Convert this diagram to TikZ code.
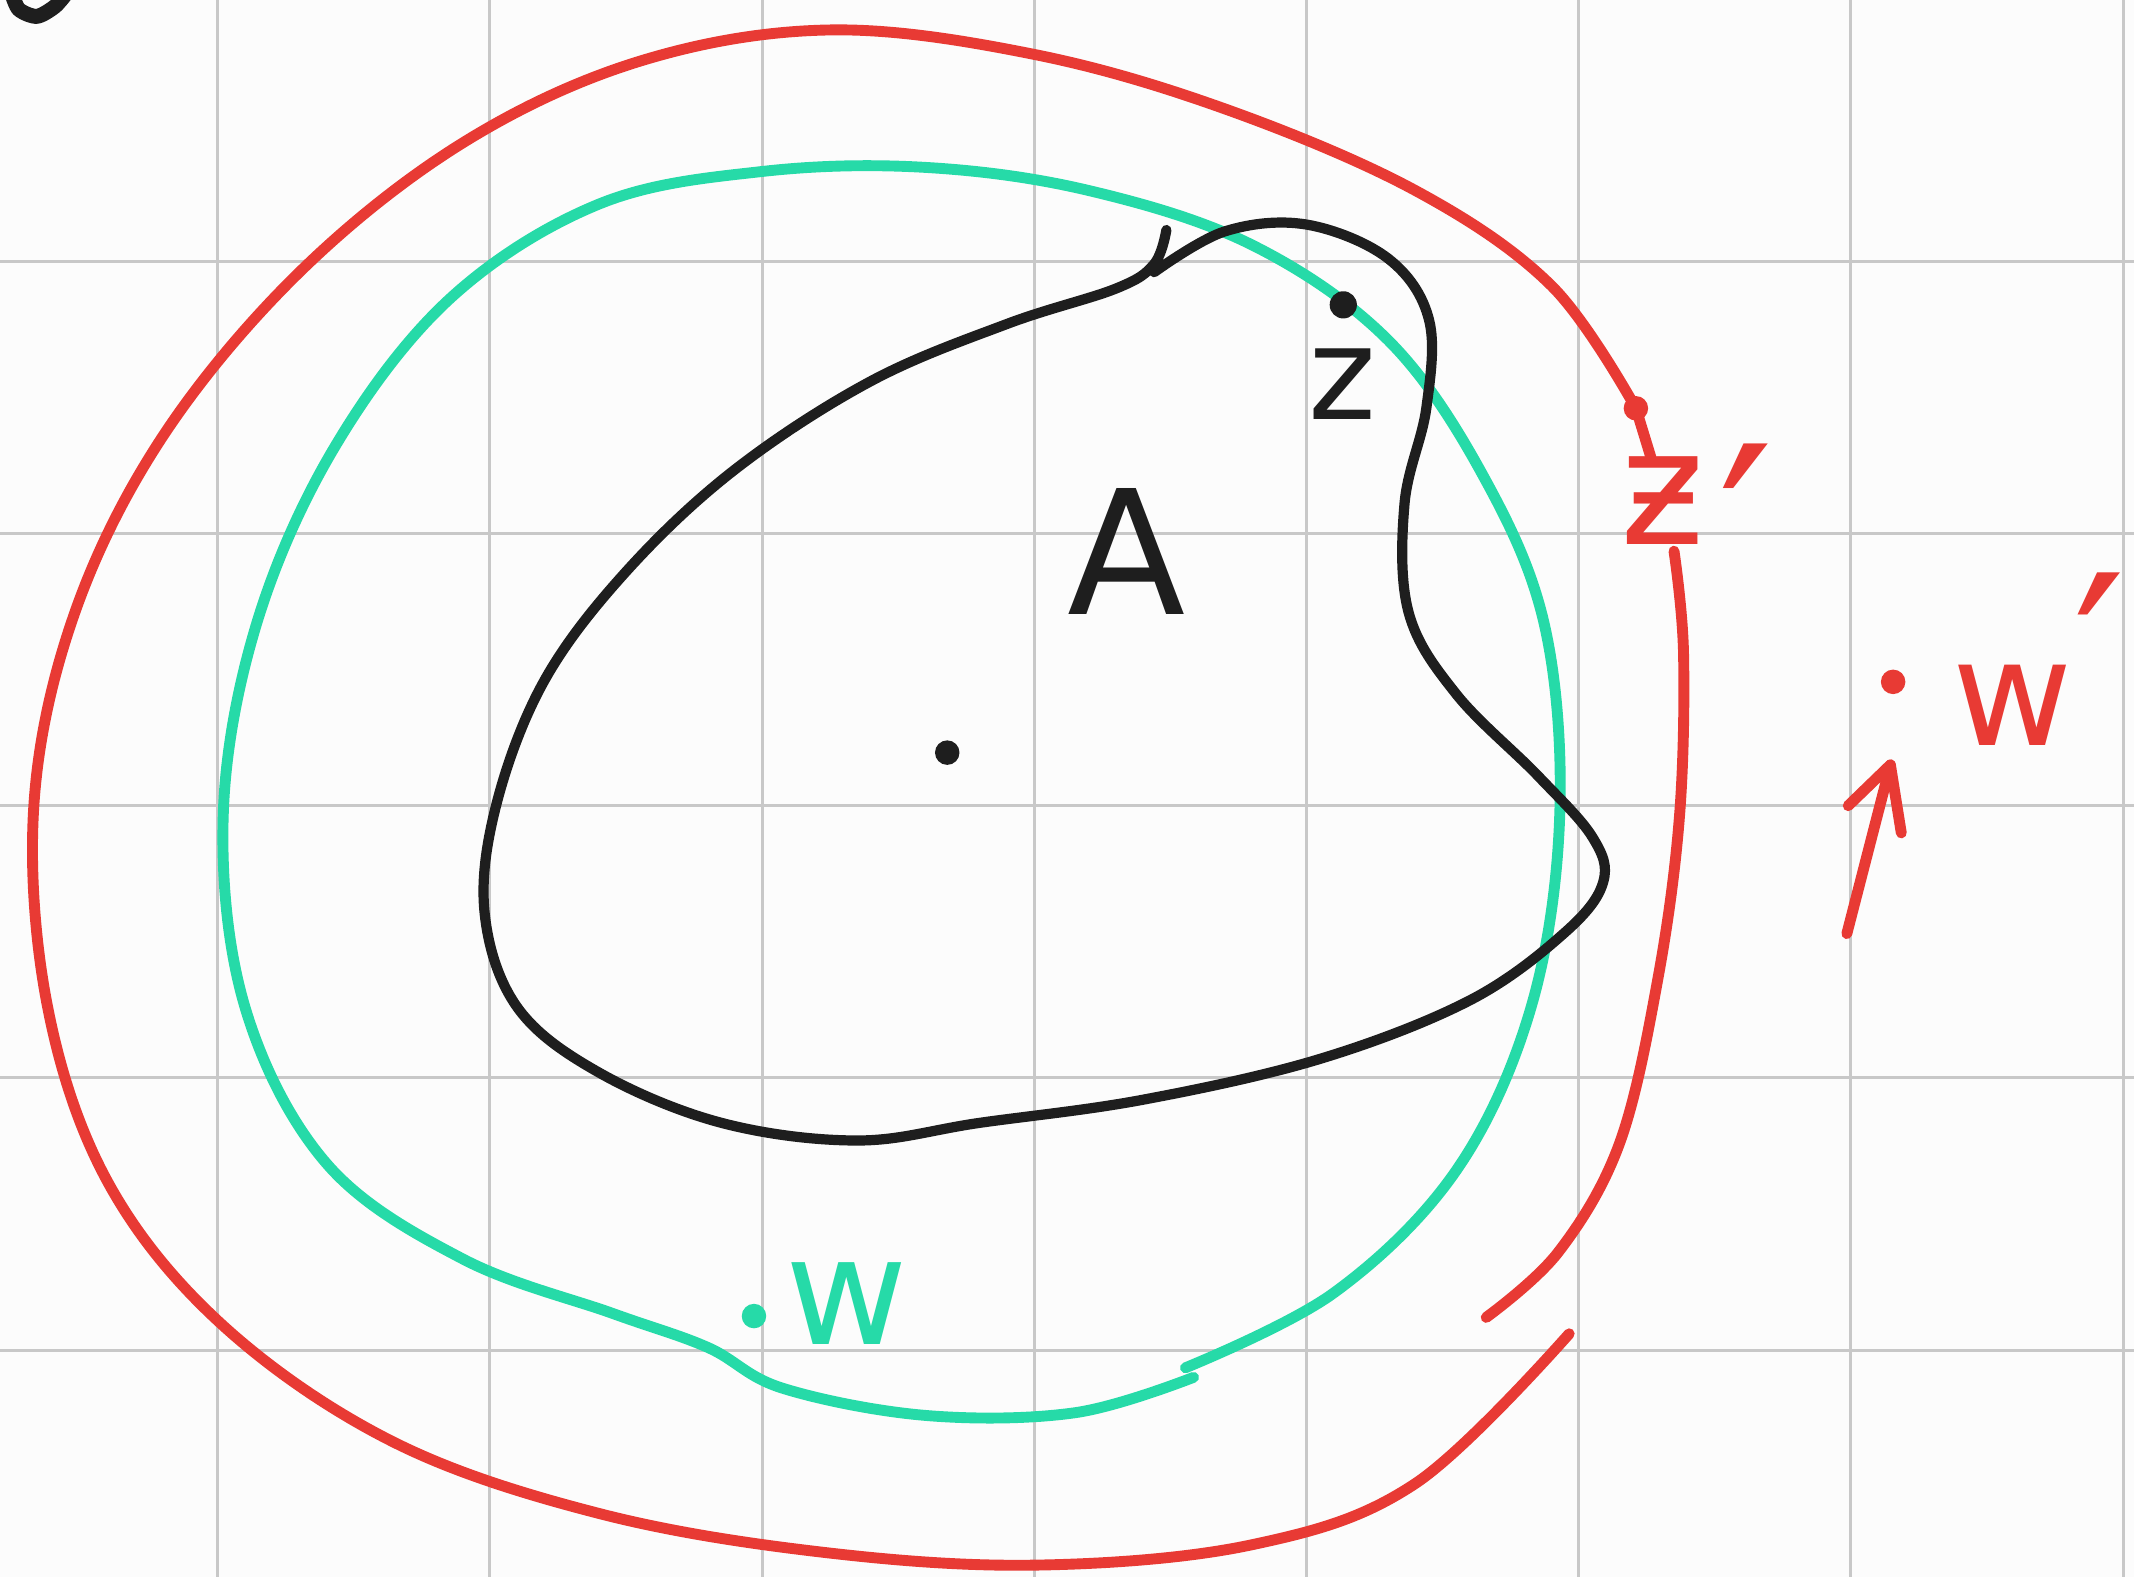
\documentclass[tikz,border=0pt]{standalone}
\usepackage{fontspec}
\setmainfont{DejaVu Sans}
\definecolor{inkred}{RGB}{232,58,52}
\definecolor{inkgreen}{RGB}{38,218,168}
\definecolor{inkblack}{RGB}{30,30,30}
\definecolor{gridgray}{RGB}{200,200,200}
\definecolor{paper}{RGB}{252,252,252}
\tikzset{
  redink/.style={draw=inkred, line width=8pt, line cap=round, line join=round},
  greenink/.style={draw=inkgreen, line width=8pt, line cap=round, line join=round},
  blackink/.style={draw=inkblack, line width=7.5pt, line cap=round, line join=round},
  gridline/.style={draw=gridgray, line width=2.2pt},
  lbl/.style={inner sep=0pt, outer sep=0pt, anchor=center},
}
\begin{document}
\begin{tikzpicture}[x=1pt,y=-1pt]
\useasboundingbox (0,0) rectangle (1568,1159);
\fill[paper] (0,0) rectangle (1568,1159);
% grid
\foreach \gx in {160,360,560,760,960,1160,1360,1560} \draw[gridline] (\gx,0) -- (\gx,1159);
\foreach \gy in {192,392,592,792,992} \draw[gridline] (0,\gy) -- (1568,\gy);
% top-left fragment
\draw[blackink, line width=11pt] plot[smooth] coordinates {(9,-4) (14,7) (27,12) (40,5) (48,-4)};
% red outer curve
\draw[redink] plot[smooth, tension=0.6] coordinates {(1202,300) (1140,210) (1040,140) (900,80) (760,40) (610,22) (470,45) (340,105) (220,200) (120,320) (55,450) (25,590) (35,740) (80,870) (165,975) (290,1060) (440,1112) (600,1140) (760,1150) (920,1135) (1040,1090) (1153,980)};
\draw[redink] plot[smooth, tension=0.6] coordinates {(1230,405) (1237,480) (1234,600) (1218,720) (1190,840) (1145,920) (1092,968)};
\fill[inkred] (1202,300) circle (9pt);
\draw[redink] (1202,300) -- (1213,336);
\node[lbl, text=inkred, font=\fontsize{118}{118}\selectfont] (zp) at (1222,368) {ƶ};
\node[lbl, text=inkred, font=\fontsize{180}{180}\selectfont] (zpp) at (1283,392) {′};
% w' and arrow
\fill[inkred] (1391,501) circle (9pt);
\node[lbl, text=inkred, font=\fontsize{108}{108}\selectfont] (wp) at (1479,518) {w};
\node[lbl, text=inkred, font=\fontsize{170}{170}\selectfont] (wpp) at (1543,483) {′};
\coordinate (atail) at (1357,686);
\coordinate (atip) at (1389,562);
\draw[redink] (atail) -- (atip);
\draw[redink] (1358,592) -- (atip) -- (1397,612);
% green curve
\draw[greenink] plot[smooth, tension=0.6] coordinates {(871,1005) (980,950) (1070,860) (1125,740) (1146,600) (1135,460) (1090,350) (1020,250) (920,180) (800,140) (680,123) (560,126) (440,150) (330,220) (245,330) (188,460) (164,600) (180,740) (240,855) (340,925) (450,965) (520,990) (575,1020) (680,1040) (790,1038) (877,1012)};
\fill[inkgreen] (554,967) circle (9pt);
\node[lbl, text=inkgreen, font=\fontsize{110}{110}\selectfont] (gw) at (622,958) {w};
% black blob
\draw[blackink] plot[smooth, tension=0.6] coordinates {(848,200) (900,170) (960,165) (1020,190) (1050,235) (1048,300) (1032,370) (1035,450) (1070,510) (1130,570) (1170,615) (1178,648) (1150,685) (1080,735) (970,778) (840,808) (720,825) (630,838) (530,825) (440,788) (380,740) (356,670) (365,590) (400,500) (460,420) (540,345) (640,280) (740,238) (820,212) (848,194) (857,169)};
\fill[inkblack] (696,553) circle (9pt);
\fill[inkblack] (987,224) circle (10pt);
\node[lbl, text=inkblack, font=\fontsize{95}{95}\selectfont] (zl) at (986,282) {z};
\node[lbl, text=inkblack, font=\fontsize{127}{127}\selectfont] (al) at (828,405) {A};
\end{tikzpicture}
\end{document}
